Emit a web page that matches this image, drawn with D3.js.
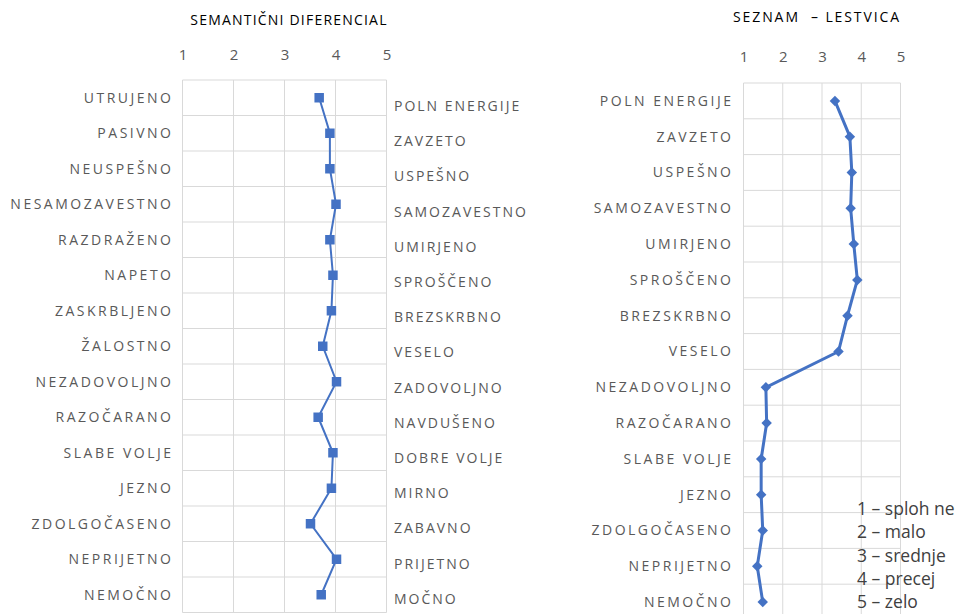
<!DOCTYPE html>
<html>
<head>
<meta charset="utf-8">
<script src="https://cdn.jsdelivr.net/npm/d3@7"></script>
<style>
  body { margin: 0; background: #fff; }
  text { font-family: "Open Sans", "Noto Sans", sans-serif; }
</style>
</head>
<body>
<script>
// categories
var negLabels = ["UTRUJENO", "PASIVNO", "NEUSPEŠNO", "NESAMOZAVESTNO", "RAZDRAŽENO", "NAPETO",
  "ZASKRBLJENO", "ŽALOSTNO", "NEZADOVOLJNO", "RAZOČARANO", "SLABE VOLJE", "JEZNO",
  "ZDOLGOČASENO", "NEPRIJETNO", "NEMOČNO"];
var posLabels = ["POLN ENERGIJE", "ZAVZETO", "USPEŠNO", "SAMOZAVESTNO", "UMIRJENO", "SPROŠČENO",
  "BREZSKRBNO", "VESELO", "ZADOVOLJNO", "NAVDUŠENO", "DOBRE VOLJE", "MIRNO",
  "ZABAVNO", "PRIJETNO", "MOČNO"];
var listLabels = ["POLN ENERGIJE", "ZAVZETO", "USPEŠNO", "SAMOZAVESTNO", "UMIRJENO", "SPROŠČENO",
  "BREZSKRBNO", "VESELO", "NEZADOVOLJNO", "RAZOČARANO", "SLABE VOLJE", "JEZNO",
  "ZDOLGOČASENO", "NEPRIJETNO", "NEMOČNO"];
// series
var semValues = [3.68, 3.89, 3.89, 4.01, 3.89, 3.95, 3.92, 3.75, 4.02, 3.66, 3.95, 3.92, 3.51, 4.02, 3.72];
var listValues = [3.33, 3.71, 3.76, 3.73, 3.81, 3.90, 3.65, 3.42, 1.57, 1.59, 1.45, 1.45, 1.49, 1.35, 1.49];
var ticks = [1, 2, 3, 4, 5];
var legendLines = ["1 – sploh ne", "2 – malo", "3 – srednje", "4 – precej", "5 – zelo"];

var blue = "#4472C4", grid = "#d9d9d9", gray = "#595959";

var svg = d3.select("body").append("svg")
  .attr("width", 958).attr("height", 614);

function panel(cfg) {
  var g = svg.append("g");
  var x = d3.scaleLinear().domain([1, 5]).range(cfg.xr);
  var y = d3.scaleBand().domain(d3.range(15)).range(cfg.yr);

  // vertical grid
  g.selectAll(".vg").data(ticks).enter().append("line")
    .attr("x1", function(d) { return x(d); }).attr("x2", function(d) { return x(d); })
    .attr("y1", cfg.yr[0]).attr("y2", cfg.yr[1])
    .attr("stroke", grid).attr("stroke-width", 1);
  // horizontal grid
  g.selectAll(".hg").data(d3.range(16)).enter().append("line")
    .attr("x1", cfg.xr[0]).attr("x2", cfg.xr[1])
    .attr("y1", function(d) { return cfg.yr[0] + d * y.step(); })
    .attr("y2", function(d) { return cfg.yr[0] + d * y.step(); })
    .attr("stroke", grid).attr("stroke-width", 1);

  // tick labels on top
  var ax = g.append("g")
    .attr("transform", "translate(0," + cfg.tickY + ")")
    .call(d3.axisTop(x).tickValues(ticks).tickSize(0).tickPadding(0).tickFormat(d3.format("d")));
  ax.select(".domain").remove();
  ax.selectAll("text").attr("fill", gray).style("font-size", "15px")
    .attr("dy", "0.35em").style("font-family", "'Open Sans', sans-serif");

  // title
  g.append("text").attr("x", cfg.titleX).attr("y", cfg.titleY)
    .attr("text-anchor", "middle").attr("fill", "#000")
    .style("font-size", "14px").style("letter-spacing", cfg.titleSp)
    .style("white-space", "pre")
    .text(cfg.title);

  // line + markers
  var line = d3.line()
    .x(function(d) { return x(d); })
    .y(function(d, i) { return y(i) + y.bandwidth() / 2; });
  g.append("path").datum(cfg.values)
    .attr("d", line).attr("fill", "none")
    .attr("stroke", blue).attr("stroke-width", cfg.lw);
  g.selectAll(".mk").data(cfg.values).enter().append("path")
    .attr("transform", function(d, i) {
      return "translate(" + x(d) + "," + (y(i) + y.bandwidth() / 2) + ")" + (cfg.diamond ? " rotate(45)" : "");
    })
    .attr("d", d3.symbol().type(d3.symbolSquare).size(cfg.msize))
    .attr("fill", blue);

  return { x: x, y: y, g: g };
}

function labels(g, data, yScale, xPos, anchor, spacing) {
  g.selectAll(null).data(data).enter().append("text")
    .attr("x", xPos).attr("y", function(d, i) { return yScale(i) + yScale.bandwidth() / 2; })
    .attr("dy", "0.35em").attr("text-anchor", anchor)
    .attr("fill", gray).style("font-size", "14px").style("letter-spacing", spacing)
    .style("white-space", "pre")
    .text(function(d) { return d; });
}

// left panel: semantic differential
var p1 = panel({
  xr: [182.5, 386.5], yr: [80, 612.5], tickY: 55,
  title: "SEMANTIČNI DIFERENCIAL", titleX: 289, titleY: 25, titleSp: "1.2px",
  values: semValues, lw: 2, msize: 90, diamond: false
});
labels(p1.g, negLabels, p1.y, 173.5, "end", "2.5px");
var yRight = d3.scaleBand().domain(d3.range(15)).range([88.4, 616.6]);
labels(p1.g, posLabels, yRight, 394, "start", "2px");

// right panel: list scale
var p2 = panel({
  xr: [743.5, 900.5], yr: [83, 620], tickY: 57,
  title: "SEZNAM  – LESTVICA", titleX: 817, titleY: 22, titleSp: "1.9px",
  values: listValues, lw: 3, msize: 55, diamond: true
});
labels(p2.g, listLabels, p2.y, 733.5, "end", "2.5px");

// legend text (kept just inside the bottom edge)
svg.append("g").selectAll("text").data(legendLines).enter().append("text")
  .attr("x", 857).attr("y", function(d, i) { return 509 + i * 23.3; })
  .attr("dy", "0.35em").attr("fill", "#404040").style("font-size", "17.5px")
  .text(function(d) { return d; });
</script>
</body>
</html>
